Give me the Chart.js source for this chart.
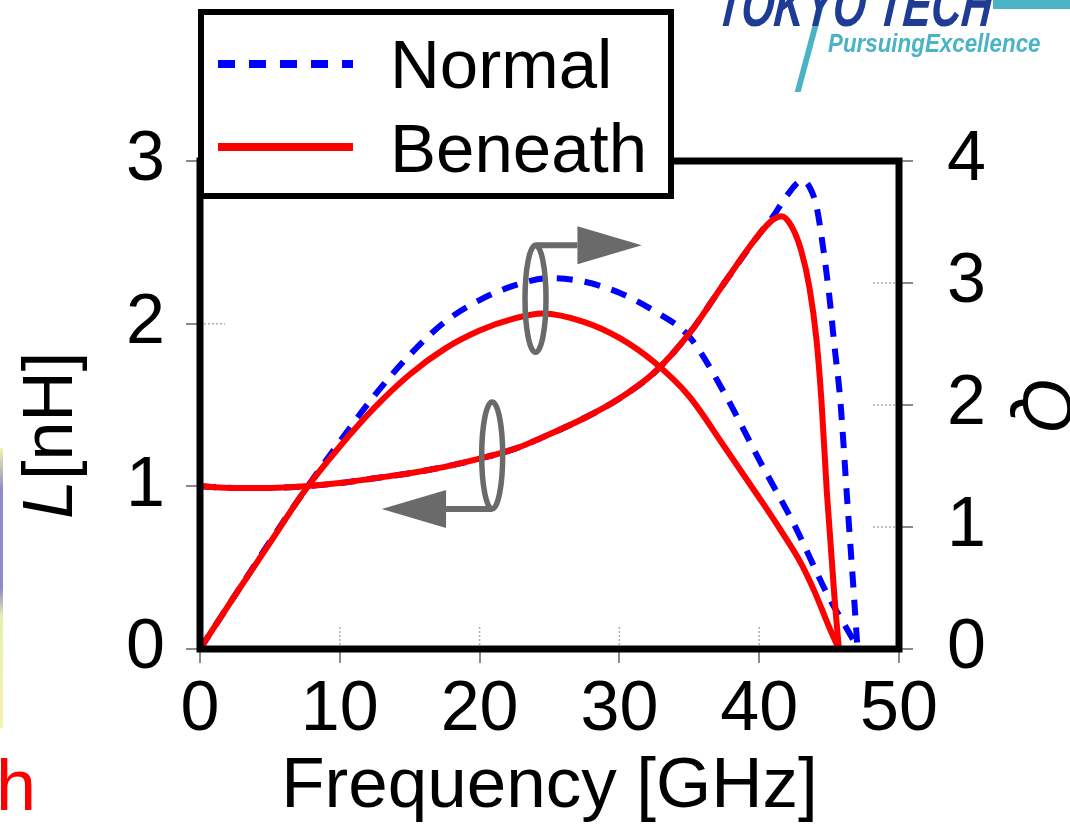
<!DOCTYPE html>
<html>
<head>
<meta charset="utf-8">
<title>L and Q vs frequency</title>
<script src="https://cdn.jsdelivr.net/npm/chart.js@4.4.0/dist/chart.umd.min.js"></script>
<style>
    html, body { margin: 0; padding: 0; background: #fff; }
    #wrap { position: relative; width: 1070px; height: 825px; overflow: hidden; }
    #chart { position: absolute; left: 0; top: 0; }
    .logo-bar { position: absolute; left: 993px; top: 0; width: 77px; height: 9px; background: #4ab3c4; }
    .logo-slash { position: absolute; left: 807px; top: 0; width: 6px; height: 92px; background: #4ab3c4; transform: skewX(-15deg); }
    .logo-name { position: absolute; left: 720px; top: -26px; font: italic bold 62px "Liberation Sans", Arial, sans-serif;
        line-height: 1; color: #1e3c94; white-space: nowrap; transform-origin: left top; transform: scaleX(0.68) skewX(-8deg); }
    .logo-tag { position: absolute; left: 828px; top: 30px; font: italic bold 26px "Liberation Sans", Arial, sans-serif;
        line-height: 1; color: #4ab3c4; white-space: nowrap; transform-origin: left top; transform: scaleX(0.86); }
    .side-strip { position: absolute; left: 0; top: 448px; width: 3px; height: 280px;
        background: linear-gradient(#f6f2b0 0%, #8c8cc8 15%, #8c8cc8 50%, #e8eeb0 60%, #f6f2b0 100%); }
    .side-text { position: absolute; left: -4px; top: 749px; font: 72px "Liberation Sans", Arial, sans-serif;
        line-height: 1; color: #ff0000; }
</style>
</head>
<body>
<div id="wrap">
    <canvas id="chart" width="1070" height="825"></canvas>
    <div class="logo-slash"></div>
    <div class="logo-bar"></div>
    <div class="logo-name">TOKYO TECH</div>
    <div class="logo-tag">PursuingExcellence</div>
    <div class="side-strip"></div>
    <div class="side-text">h</div>
</div>
<script>
(function() {
    const FONT = '"Liberation Sans", Arial, sans-serif';

    // Inductance L [nH] (left axis)
    const freqLNormal = [0, 2.5, 5, 7.5, 10, 12.5, 15, 17.5, 20, 22.5, 25, 27.5, 30, 32.5, 35, 37.5, 40, 41, 42, 43.1, 43.6, 44.1, 44.6, 45.0, 45.4, 45.8, 46.3, 46.8, 47.0];
    const lNormal = [1.00, 0.99, 0.99, 1.00, 1.02, 1.05, 1.08, 1.12, 1.17, 1.23, 1.32, 1.42, 1.54, 1.70, 1.94, 2.25, 2.55, 2.66, 2.79, 2.88, 2.84, 2.72, 2.45, 2.18, 1.85, 1.53, 0.91, 0.30, 0.04];
    const freqLBeneath = [0, 2.5, 5, 7.5, 10, 12.5, 15, 17.5, 20, 22.5, 25, 27.5, 30, 32.5, 35, 37.5, 40, 41, 41.6, 42.3, 43.0, 43.6, 44.1, 44.45, 44.85, 45.4, 45.7];
    const lBeneath = [1.00, 0.99, 0.99, 1.00, 1.02, 1.05, 1.08, 1.12, 1.17, 1.23, 1.32, 1.42, 1.54, 1.70, 1.94, 2.25, 2.55, 2.64, 2.66, 2.60, 2.45, 2.22, 1.90, 1.53, 0.95, 0.30, 0.00];

    // Quality factor Q (right axis)
    const freqQNormal = [0, 2.5, 5, 7.5, 10, 12.5, 15, 17.5, 20, 22.5, 25, 27.5, 30, 32.5, 35, 37.5, 40, 42.5, 45, 46, 47];
    const qNormal = [0, 0.44, 0.88, 1.30, 1.70, 2.08, 2.41, 2.68, 2.86, 2.98, 3.04, 3.01, 2.92, 2.77, 2.56, 2.10, 1.55, 1.02, 0.42, 0.22, 0.02];
    const freqQBeneath = [0, 2.5, 5, 7.5, 10, 12.5, 15, 17.5, 20, 22.5, 24.5, 27.5, 30, 32.5, 35, 37.5, 40, 41.5, 43, 44, 45, 45.7];
    const qBeneath = [0, 0.44, 0.87, 1.30, 1.66, 1.98, 2.25, 2.46, 2.61, 2.71, 2.75, 2.68, 2.55, 2.35, 2.07, 1.66, 1.24, 0.98, 0.70, 0.46, 0.18, 0];

    const xTicks = [0, 10, 20, 30, 40, 50];
    const lTicks = [0, 1, 2, 3];
    const qTicks = [0, 1, 2, 3, 4];
    const seriesLabels = ['Normal', 'Beneath'];
    const seriesColors = ['#0000ff', '#ff0000'];

    function toPoints(freq, vals) {
        return freq.map((f, i) => ({ x: f, y: vals[i] }));
    }

    function setTicks(values) {
        return scale => { scale.ticks = values.map(v => ({ value: v })); };
    }

    // rings + arrows that point each pair of curves to its axis
    const rings = [
        { f: 24.0, v: 2.87, axis: 'y1', side: 'top', baseF: 27.0, tipF: 31.6 },
        { f: 20.9, v: 1.19, axis: 'y', side: 'bottom', baseF: 17.6, tipF: 13.0 }
    ];

    const decorations = {
        id: 'decorations',
        beforeDatasetsDraw(chart) {
            const ctx = chart.ctx;
            const { left, right, top, bottom } = chart.chartArea;
            const s = chart.scales;
            ctx.save();
            ctx.strokeStyle = '#b0b0b0';
            ctx.lineWidth = 1.5;
            ctx.setLineDash([2, 2]);
            ctx.beginPath();
            xTicks.slice(1, -1).forEach(v => {
                const px = s.x.getPixelForValue(v);
                ctx.moveTo(px, bottom); ctx.lineTo(px, bottom - 22);
            });
            lTicks.slice(1, -1).forEach(v => {
                const py = s.y.getPixelForValue(v);
                ctx.moveTo(left, py); ctx.lineTo(left + 25, py);
            });
            qTicks.slice(1, -1).forEach(v => {
                const py = s.y1.getPixelForValue(v);
                ctx.moveTo(right, py); ctx.lineTo(right - 28, py);
            });
            ctx.stroke();
            ctx.restore();
        },
        afterDatasetsDraw(chart) {
            const ctx = chart.ctx;
            const { left, right, top, bottom } = chart.chartArea;
            ctx.save();
            ctx.strokeStyle = '#000';
            ctx.lineWidth = 7;
            ctx.strokeRect(left, top, right - left, bottom - top);
            ctx.restore();
        },
        afterDraw(chart) {
            const ctx = chart.ctx;
            const s = chart.scales;
            ctx.save();

            // rings and arrows
            ctx.strokeStyle = '#6a6a6a';
            ctx.fillStyle = '#6a6a6a';
            rings.forEach(r => {
                const cx = s.x.getPixelForValue(r.f);
                const cy = s[r.axis].getPixelForValue(r.v);
                const rx = 10.5, ry = 53.5;
                ctx.lineWidth = 5.5;
                ctx.beginPath();
                ctx.ellipse(cx, cy, rx, ry, 0, 0, Math.PI * 2);
                ctx.stroke();
                const ay = r.side === 'top' ? cy - ry : cy + ry;
                const bx = s.x.getPixelForValue(r.baseF);
                const tx = s.x.getPixelForValue(r.tipF);
                ctx.lineWidth = 6;
                ctx.beginPath();
                ctx.moveTo(cx, ay); ctx.lineTo(bx, ay);
                ctx.stroke();
                ctx.beginPath();
                ctx.moveTo(bx, ay - 19); ctx.lineTo(tx, ay); ctx.lineTo(bx, ay + 19);
                ctx.closePath();
                ctx.fill();
            });

            // left axis title with italic L
            ctx.fillStyle = '#000';
            ctx.textBaseline = 'alphabetic';
            ctx.translate(72, 519);
            ctx.rotate(-Math.PI / 2);
            ctx.font = 'italic 70px ' + FONT;
            ctx.fillText('L', 0, 0);
            const lw = ctx.measureText('L').width;
            ctx.font = '70px ' + FONT;
            ctx.fillText('[nH]', lw, 0);
            ctx.restore();

            // legend box
            ctx.save();
            ctx.fillStyle = '#fff';
            ctx.fillRect(201, 12, 470, 184);
            ctx.strokeStyle = '#000';
            ctx.lineWidth = 6;
            ctx.strokeRect(201, 12, 470, 184);
            const rows = [64, 147];
            const baselines = [88, 172];
            seriesLabels.forEach((label, i) => {
                ctx.strokeStyle = seriesColors[i];
                ctx.lineWidth = 8;
                ctx.setLineDash(i === 0 ? [17, 14] : []);
                ctx.beginPath();
                ctx.moveTo(218, rows[i]); ctx.lineTo(353, rows[i]);
                ctx.stroke();
                ctx.fillStyle = '#000';
                ctx.font = '69px ' + FONT;
                ctx.textBaseline = 'alphabetic';
                ctx.fillText(label, 390, baselines[i]);
            });
            ctx.restore();
        }
    };

    const lineStyle = (color, dashed) => ({
        borderColor: color,
        backgroundColor: color,
        borderWidth: 6,
        borderDash: dashed ? [16, 12] : [],
        pointRadius: 0,
        fill: false,
        cubicInterpolationMode: 'monotone'
    });

    const tickGrid = { drawOnChartArea: false, drawTicks: true, tickLength: 14, color: '#8a8a8a', lineWidth: 2 };

    new Chart(document.getElementById('chart').getContext('2d'), {
        type: 'line',
        data: {
            datasets: [
                Object.assign({ label: 'L Beneath', yAxisID: 'y', data: toPoints(freqLBeneath, lBeneath) }, lineStyle(seriesColors[1], false)),
                Object.assign({ label: 'Q Beneath', yAxisID: 'y1', data: toPoints(freqQBeneath, qBeneath) }, lineStyle(seriesColors[1], false)),
                Object.assign({ label: 'L Normal', yAxisID: 'y', data: toPoints(freqLNormal, lNormal) }, lineStyle(seriesColors[0], true)),
                Object.assign({ label: 'Q Normal', yAxisID: 'y1', data: toPoints(freqQNormal, qNormal) }, lineStyle(seriesColors[0], true))
            ]
        },
        options: {
            responsive: false,
            animation: false,
            layout: { padding: { top: 161, right: 0, bottom: 0, left: 0 } },
            plugins: {
                legend: { display: false },
                tooltip: { enabled: false }
            },
            scales: {
                x: {
                    type: 'linear',
                    min: 0,
                    max: 50,
                    afterBuildTicks: setTicks(xTicks),
                    afterFit: scale => { scale.height = 176; },
                    border: { display: false },
                    grid: tickGrid,
                    ticks: { color: '#000', font: { size: 70, family: FONT }, padding: 6, maxRotation: 0, autoSkip: false },
                    title: {
                        display: true,
                        text: 'Frequency [GHz]',
                        color: '#000',
                        font: { size: 71, family: FONT, lineHeight: 1 },
                        padding: { top: 0, bottom: 2 }
                    }
                },
                y: {
                    position: 'left',
                    min: 0,
                    max: 3,
                    afterBuildTicks: setTicks(lTicks),
                    afterFit: scale => { scale.width = 200; },
                    border: { display: false },
                    grid: tickGrid,
                    ticks: { color: '#000', font: { size: 70, family: FONT }, padding: 21 }
                },
                y1: {
                    position: 'right',
                    min: 0,
                    max: 4,
                    afterBuildTicks: setTicks(qTicks),
                    afterFit: scale => { scale.width = 171; },
                    border: { display: false },
                    grid: tickGrid,
                    ticks: { color: '#000', font: { size: 70, family: FONT }, padding: 34 },
                    title: {
                        display: true,
                        text: 'Q',
                        color: '#000',
                        font: { size: 70, family: FONT, style: 'italic', lineHeight: 0.8 },
                        padding: 0
                    }
                }
            }
        },
        plugins: [decorations]
    });
})();
</script>
</body>
</html>
